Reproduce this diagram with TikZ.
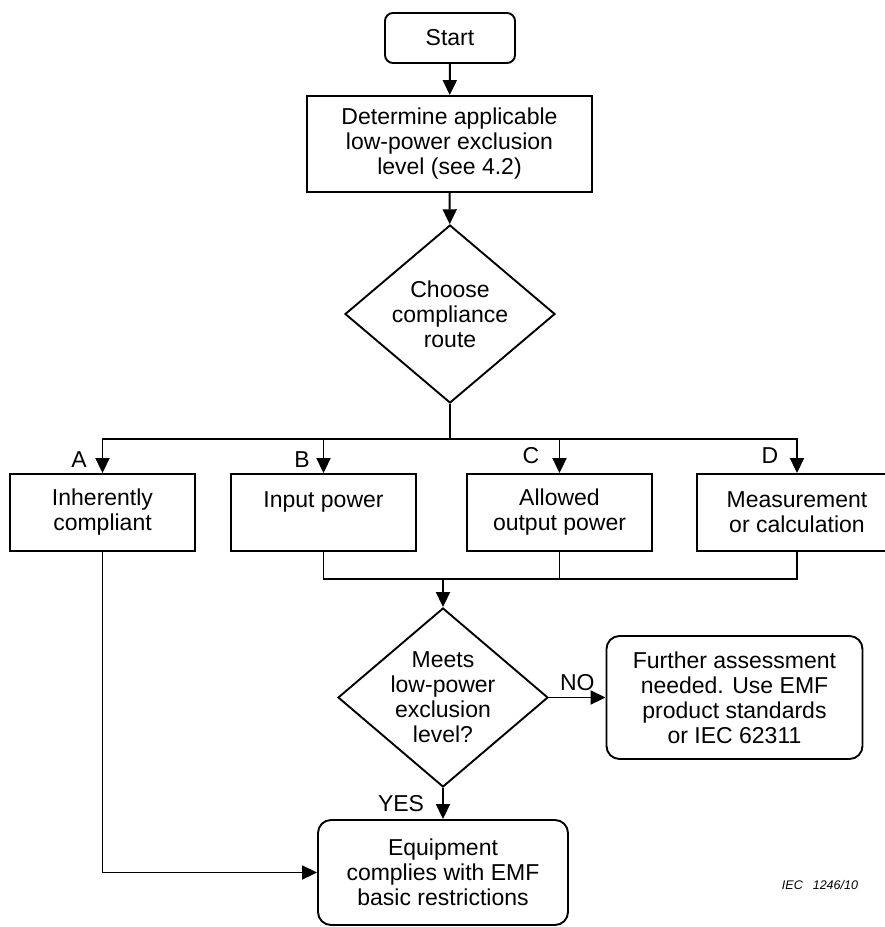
\documentclass[tikz,border=0pt]{standalone}
\usepackage{fontspec}
\setmainfont{Liberation Sans}
\usetikzlibrary{shapes.geometric,arrows.meta}

\tikzset{
  flow/.style={draw,line width=1.9pt,inner sep=2pt,align=center,font=\fontsize{23}{25}\selectfont},
  box/.style={flow,rectangle},
  rbox/.style={flow,rectangle,rounded corners=13pt},
  decide/.style={flow,diamond,aspect=1.18,inner sep=-8pt},
  tag/.style={font=\fontsize{23}{25}\selectfont,inner sep=2pt},
  line/.style={line width=1.9pt},
  arr/.style={line width=1.9pt,-{Triangle[length=15pt,width=14pt]}},
}

\begin{document}
\begin{tikzpicture}[x=1pt,y=-1pt]
  \useasboundingbox (0,0) rectangle (885,927);
  \clip (0,0) rectangle (885,927);
  \node[rbox,rounded corners=8pt,minimum width=130,minimum height=50]  (start)     at (450,38)      {Start};
  \node[box,minimum width=285,minimum height=96]    (determine) at (449.5,144)  {Determine applicable\\low-power exclusion\\level (see 4.2)};
  \node[decide,minimum width=210,minimum height=178] (route)    at (450,314)     {Choose\\compliance\\route};
  \node[box,minimum width=185,minimum height=77]    (inh)       at (102.5,512.5) {Inherently\\compliant};
  \node[box,minimum width=185,minimum height=77]    (inp)       at (323.5,512.5) {Input power\\\mbox{}};
  \node[box,minimum width=185,minimum height=77]    (alw)       at (559.5,512.5) {Allowed\\output power};
  \node[box,minimum width=200,minimum height=77]    (meas)      at (797,512.5)   {Measurement\\or calculation};
  \node[decide,minimum width=210,minimum height=179] (meets)    at (443,697.5)   {Meets\\low-power\\exclusion\\level?};
  \node[rbox,minimum width=256,minimum height=123]  (further)   at (734.5,697.5) {Further assessment\\needed. Use EMF\\product standards\\or IEC 62311};
  \node[rbox,minimum width=250,minimum height=105]  (equip)     at (443,872.5)   {Equipment\\complies with EMF\\basic restrictions};
  \coordinate (split) at (450,439);
  \coordinate (merge) at (443,579);
  \draw[arr] (start) -- (determine);
  \draw[arr] (determine) -- (route);
  \draw[line] (route) -- (split);
  \draw[arr] (split) -| (inh);
  \draw[arr] (split) -| (inp);
  \draw[arr] (split) -| (alw);
  \draw[arr] (split) -| (meas);
  \begin{scope}[every node/.style={tag}]
    \node (la) at (79,460)  {A};
    \node (lb) at (302,460) {B};
    \node (lc) at (531,456) {C};
    \node (ld) at (770,456) {D};
  \end{scope}
  \draw[line] (inp) |- (merge);
  \draw[line] (meas) |- (merge);
  \draw[line] (alw) -- (alw |- merge);
  \draw[arr] (merge) -- (meets);
  \draw[arr] (meets) -- node[tag,above=4pt] {NO} (further);
  \draw[arr] (meets) -- node[tag,left=16pt] {YES} (equip);
  \draw[arr] (inh) |- (equip);
  \node[font=\fontsize{12.5}{14}\selectfont\itshape] (iec) at (820,885) {IEC\hspace{10pt}1246/10};
\end{tikzpicture}
\end{document}
